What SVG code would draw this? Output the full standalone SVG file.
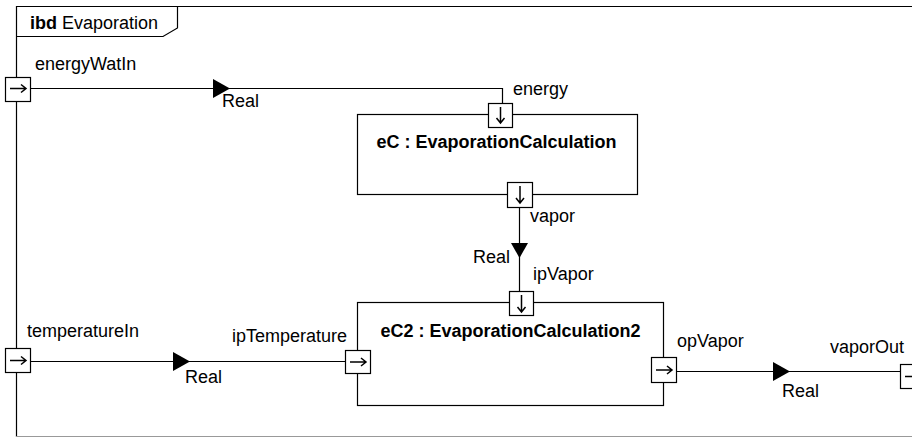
<svg xmlns="http://www.w3.org/2000/svg" width="912" height="438" viewBox="0 0 912 438">
<style>
.ln{fill:none;stroke:#000;stroke-width:1.2}
.box{fill:#fff;stroke:#000;stroke-width:1.2}
.ar{fill:none;stroke:#000;stroke-width:1.5}
.tri{fill:#000;stroke:none}
text{font-family:"Liberation Sans",Arial,sans-serif;font-size:18px;fill:#000}
.b{font-weight:bold}
.c{text-anchor:middle}
</style>
<rect width="912" height="438" fill="#fff"/>
<g id="frame">
<path class="ln" d="M16.5,437 V6.5 H913"/>
<path fill="none" stroke="#999" stroke-width="1" d="M16,436.5 H913"/>
<path class="ln" d="M16.5,36.5 H163 L177.5,28 V6.5"/>
<text x="30" y="29"><tspan class="b">ibd</tspan> Evaporation</text>
</g>
<g id="connectors">
<path class="ln" d="M30.5,88.5 H502.5 V103.5"/>
<path class="tri" d="M213,79 L230,88.5 L213,98 Z"/>
<text x="222" y="107">Real</text>
<path class="ln" d="M519.5,207.5 V291.5"/>
<path class="tri" d="M511,243 L528,243 L519.5,258 Z"/>
<text x="473" y="263">Real</text>
<path class="ln" d="M30.5,361.5 H345.5"/>
<path class="tri" d="M173,352 L190,361.5 L173,371 Z"/>
<text x="185" y="383">Real</text>
<path class="ln" d="M676.5,371.5 H900.5"/>
<path class="tri" d="M773,362 L790,371.5 L773,381 Z"/>
<text x="782" y="397">Real</text>
</g>
<g id="eC">
<rect class="box" x="357.5" y="114.5" width="280" height="80"/>
<text class="b c" x="496.5" y="148">eC : EvaporationCalculation</text>
</g>
<g id="eC2">
<rect class="box" x="357.5" y="302.5" width="306" height="103"/>
<text class="b c" x="510.5" y="337">eC2 : EvaporationCalculation2</text>
</g>
<g id="energyWatIn">
<rect class="box" x="5.5" y="77.5" width="25" height="24"/>
<path class="ar" d="M10,88.5 H26 M21,84.5 L26,88.5 L21,92.5"/>
<text x="35" y="70">energyWatIn</text>
</g>
<g id="energy">
<rect class="box" x="488.5" y="103.5" width="24" height="24"/>
<path class="ar" d="M500.5,107 V123 M496.5,118 L500.5,123 L504.5,118"/>
<text x="513" y="95">energy</text>
</g>
<g id="vapor">
<rect class="box" x="507.5" y="182.5" width="25" height="25"/>
<path class="ar" d="M520,186 V203 M516,198 L520,203 L524,198"/>
<text x="530" y="222">vapor</text>
</g>
<g id="ipVapor">
<rect class="box" x="509.5" y="291.5" width="24" height="24"/>
<path class="ar" d="M521.5,295 V312 M517.5,307 L521.5,312 L525.5,307"/>
<text x="533" y="280">ipVapor</text>
</g>
<g id="temperatureIn">
<rect class="box" x="5.5" y="348.5" width="25" height="24"/>
<path class="ar" d="M10,360.5 H26 M21,356.5 L26,360.5 L21,364.5"/>
<text x="27" y="337">temperatureIn</text>
</g>
<g id="ipTemperature">
<rect class="box" x="345.5" y="350.5" width="25" height="23"/>
<path class="ar" d="M350,362 H366 M361,358 L366,362 L361,366"/>
<text x="232" y="342">ipTemperature</text>
</g>
<g id="opVapor">
<rect class="box" x="651.5" y="357.5" width="25" height="25"/>
<path class="ar" d="M656,370 H672 M667,366 L672,370 L667,374"/>
<text x="677" y="347">opVapor</text>
</g>
<g id="vaporOut">
<rect class="box" x="900.5" y="364.5" width="25" height="24"/>
<path class="ar" d="M905,376.5 H921 M916,372.5 L921,376.5 L916,380.5"/>
<text x="830" y="353">vaporOut</text>
</g>
</svg>
